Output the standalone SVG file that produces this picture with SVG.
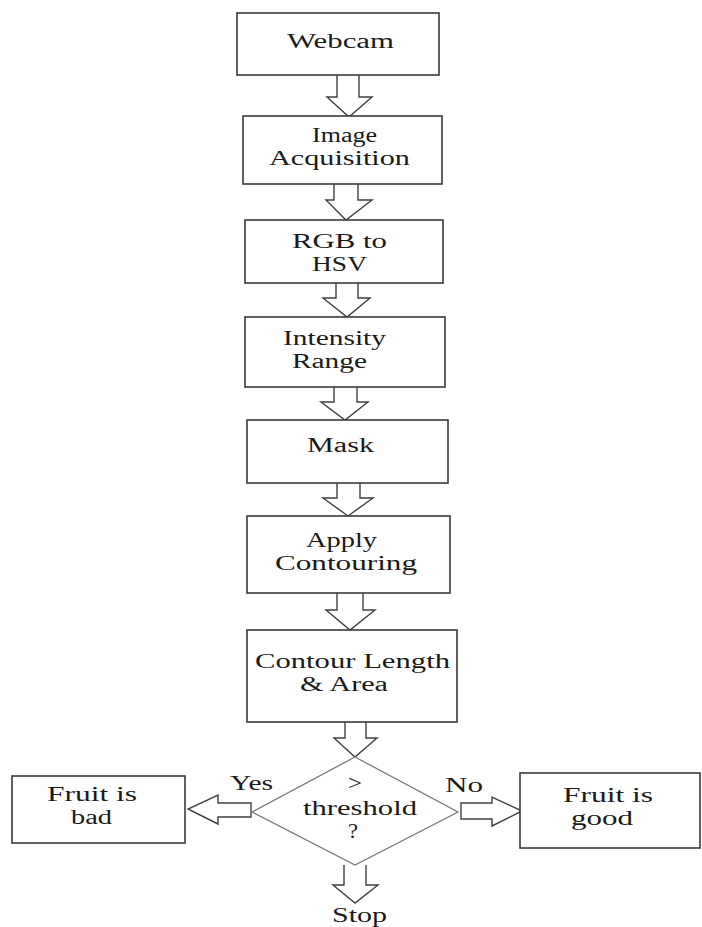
<svg xmlns="http://www.w3.org/2000/svg" width="702" height="927" viewBox="0 0 702 927">
<style>
.box{fill:#fff;stroke:#3a3a3a;stroke-width:1.6}
.dia{fill:#fff;stroke:#7a7a7a;stroke-width:1.3}
.arr{fill:#fff;stroke:#404040;stroke-width:1.4;stroke-linejoin:miter}
.t{font-family:"Liberation Serif","Times New Roman",serif;font-size:20px;fill:#1a1a1a;text-anchor:start}
</style>
<rect width="702" height="927" fill="#fff"/>
<g id="connectors">
<polyline class="arr" points="337,75 337,97 327,97 349,117 372,97 359,97 359,75"/>
<polyline class="arr" points="334,184 334,200 326,200 346,220 372,200 358,200 358,184"/>
<polyline class="arr" points="336,283 336,298 323,298 347,317 370,298 358,298 358,283"/>
<polyline class="arr" points="334,387 334,402 321,402 345,420 368,402 357,402 357,387"/>
<polyline class="arr" points="337,483 337,498 323,498 348,516 373,498 360,498 360,483"/>
<polyline class="arr" points="337,593 337,610 326,610 350,630 375,610 363,610 363,593"/>
<polyline class="arr" points="345,722 345,738 334,738 355,757 377,738 366,738 366,722"/>
<polyline class="arr" points="344,865 344,885 333,885 355,903 378,885 366,885 366,865"/>
<polygon class="arr" points="251,803 218,803 218,795 188,809 218,824 218,817 251,817"/>
<polygon class="arr" points="461,803 492,803 492,797 522,811 492,826 492,819 461,819"/>
<text class="t" x="230" y="790" textLength="43" lengthAdjust="spacingAndGlyphs">Yes</text>
<text class="t" x="445" y="792" textLength="38" lengthAdjust="spacingAndGlyphs">No</text>
</g>
<g id="webcam">
<rect class="box" x="237" y="13" width="202" height="62"/>
<text class="t" x="287" y="48" textLength="107" lengthAdjust="spacingAndGlyphs">Webcam</text>
</g>
<g id="image-acquisition">
<rect class="box" x="243" y="116" width="199" height="68"/>
<text class="t" x="312" y="142" textLength="65" lengthAdjust="spacingAndGlyphs">Image</text>
<text class="t" x="269" y="165" textLength="141" lengthAdjust="spacingAndGlyphs">Acquisition</text>
</g>
<g id="rgb-to-hsv">
<rect class="box" x="245" y="220" width="198" height="63"/>
<text class="t" x="292" y="248" textLength="95" lengthAdjust="spacingAndGlyphs">RGB to</text>
<text class="t" x="312" y="271" textLength="55" lengthAdjust="spacingAndGlyphs">HSV</text>
</g>
<g id="intensity-range">
<rect class="box" x="245" y="317" width="200" height="70"/>
<text class="t" x="283" y="345" textLength="103" lengthAdjust="spacingAndGlyphs">Intensity</text>
<text class="t" x="292" y="368" textLength="75" lengthAdjust="spacingAndGlyphs">Range</text>
</g>
<g id="mask">
<rect class="box" x="247" y="420" width="201" height="63"/>
<text class="t" x="307" y="452" textLength="67" lengthAdjust="spacingAndGlyphs">Mask</text>
</g>
<g id="apply-contouring">
<rect class="box" x="247" y="516" width="203" height="77"/>
<text class="t" x="306" y="547" textLength="71" lengthAdjust="spacingAndGlyphs">Apply</text>
<text class="t" x="275" y="570" textLength="142" lengthAdjust="spacingAndGlyphs">Contouring</text>
</g>
<g id="contour-length-area">
<rect class="box" x="247" y="630" width="210" height="92"/>
<text class="t" x="255" y="668" textLength="195" lengthAdjust="spacingAndGlyphs">Contour Length</text>
<text class="t" x="300" y="691" textLength="88" lengthAdjust="spacingAndGlyphs">&amp; Area</text>
</g>
<g id="threshold">
<polygon class="dia" points="355,757 458,812 355,865 252,812"/>
<text class="t" x="348" y="790" textLength="14" lengthAdjust="spacingAndGlyphs">&gt;</text>
<text class="t" x="303" y="815" textLength="114" lengthAdjust="spacingAndGlyphs">threshold</text>
<text class="t" x="348" y="838" textLength="10" lengthAdjust="spacingAndGlyphs">?</text>
</g>
<g id="fruit-bad">
<rect class="box" x="12" y="776" width="173" height="67"/>
<text class="t" x="47" y="801" textLength="90" lengthAdjust="spacingAndGlyphs">Fruit is</text>
<text class="t" x="71" y="824" textLength="41" lengthAdjust="spacingAndGlyphs">bad</text>
</g>
<g id="fruit-good">
<rect class="box" x="520" y="773" width="180" height="75"/>
<text class="t" x="563" y="802" textLength="90" lengthAdjust="spacingAndGlyphs">Fruit is</text>
<text class="t" x="571" y="825" textLength="62" lengthAdjust="spacingAndGlyphs">good</text>
</g>
<g id="stop">
<text class="t" x="332" y="922" textLength="55" lengthAdjust="spacingAndGlyphs">Stop</text>
</g>
</svg>
